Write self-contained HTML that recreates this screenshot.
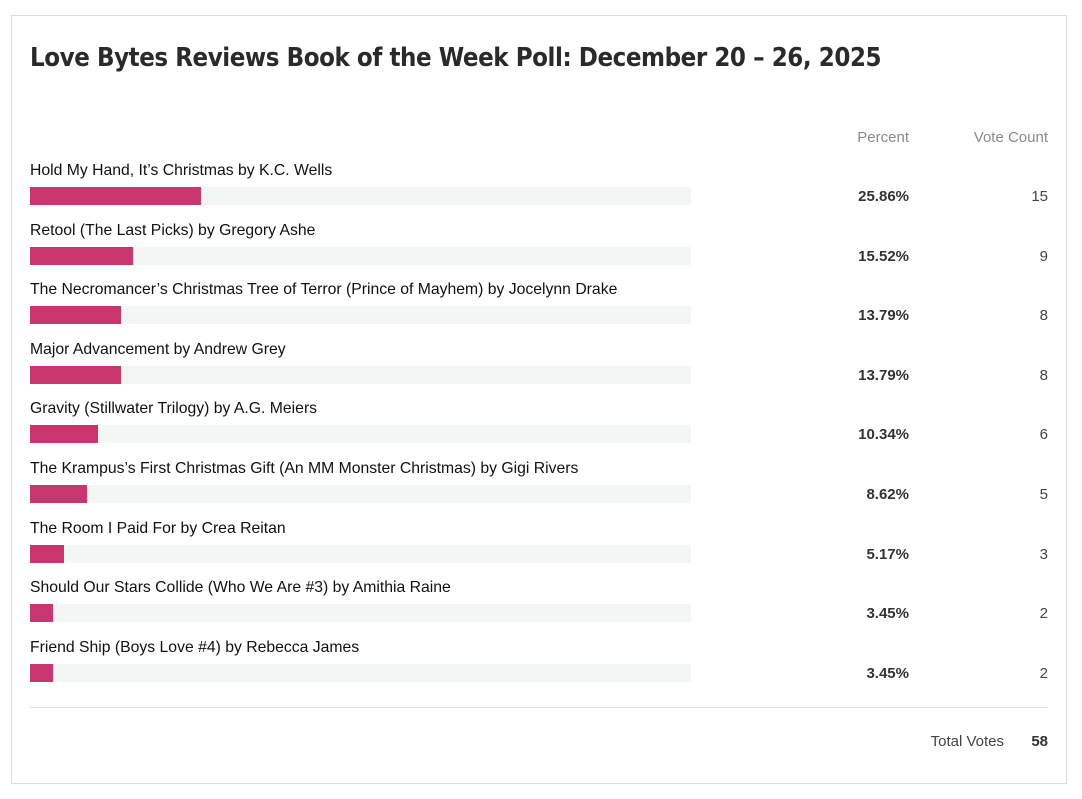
<!DOCTYPE html>
<html><head><meta charset="utf-8"><style>
body{margin:0;width:1082px;height:799px;background:#fff;position:relative;font-family:"Liberation Sans",sans-serif;overflow:hidden}
.box{position:absolute;left:11px;top:15px;width:1054px;height:767px;border:1px solid #ddd}
.a{position:absolute;white-space:nowrap}
h1{position:absolute;left:30px;top:43px;margin:0;font-size:26px;font-weight:bold;color:#2a2a2a;font-family:"DejaVu Sans","Liberation Sans",sans-serif;letter-spacing:-0.5px;transform:scaleX(0.886);transform-origin:left}
.hd{top:129px;font-size:15px;color:#8a8a8a}
.lb{left:30px;font-size:15.75px;color:#111}
.tr{left:30px;width:661px;height:18px;background:#f4f5f5}
.br{position:absolute;left:0;top:0;height:18px;background:#c9366e}
.pc{right:173px;font-size:15px;font-weight:bold;color:#333}
.ct{right:34px;font-size:15px;color:#444}
</style></head><body>
<div class="box"></div>
<h1>Love Bytes Reviews Book of the Week Poll: December 20 – 26, 2025</h1>
<div class="a hd" style="right:173px">Percent</div>
<div class="a hd" style="right:34px">Vote Count</div>
<div id="rows"></div>
<div class="a" style="left:30px;top:707px;width:1018px;height:1px;background:#ddd"></div>
<div class="a" style="right:78px;top:733px;font-size:15px;color:#444">Total Votes</div>
<div class="a" style="right:34px;top:733px;font-size:15px;font-weight:bold;color:#333">58</div>
<script>
var d=[["Hold My Hand, It’s Christmas by K.C. Wells",25.86,15],["Retool (The Last Picks) by Gregory Ashe",15.52,9],["The Necromancer’s Christmas Tree of Terror (Prince of Mayhem) by Jocelynn Drake",13.79,8],["Major Advancement by Andrew Grey",13.79,8],["Gravity (Stillwater Trilogy) by A.G. Meiers",10.34,6],["The Krampus’s First Christmas Gift (An MM Monster Christmas) by Gigi Rivers",8.62,5],["The Room I Paid For by Crea Reitan",5.17,3],["Should Our Stars Collide (Who We Are #3) by Amithia Raine",3.45,2],["Friend Ship (Boys Love #4) by Rebecca James",3.45,2]];
var h="";d.forEach(function(r,i){var y=187+i*59.6;
h+='<div class="a lb" style="top:'+(y-25)+'px">'+r[0]+'</div>';
h+='<div class="a tr" style="top:'+y+'px"><div class="br" style="width:'+(r[1]*6.61)+'px"></div></div>';
h+='<div class="a pc" style="top:'+(y+1)+'px">'+r[1].toFixed(2)+'%</div>';
h+='<div class="a ct" style="top:'+(y+1)+'px">'+r[2]+'</div>';});
document.getElementById("rows").innerHTML=h;
</script>
</body></html>
